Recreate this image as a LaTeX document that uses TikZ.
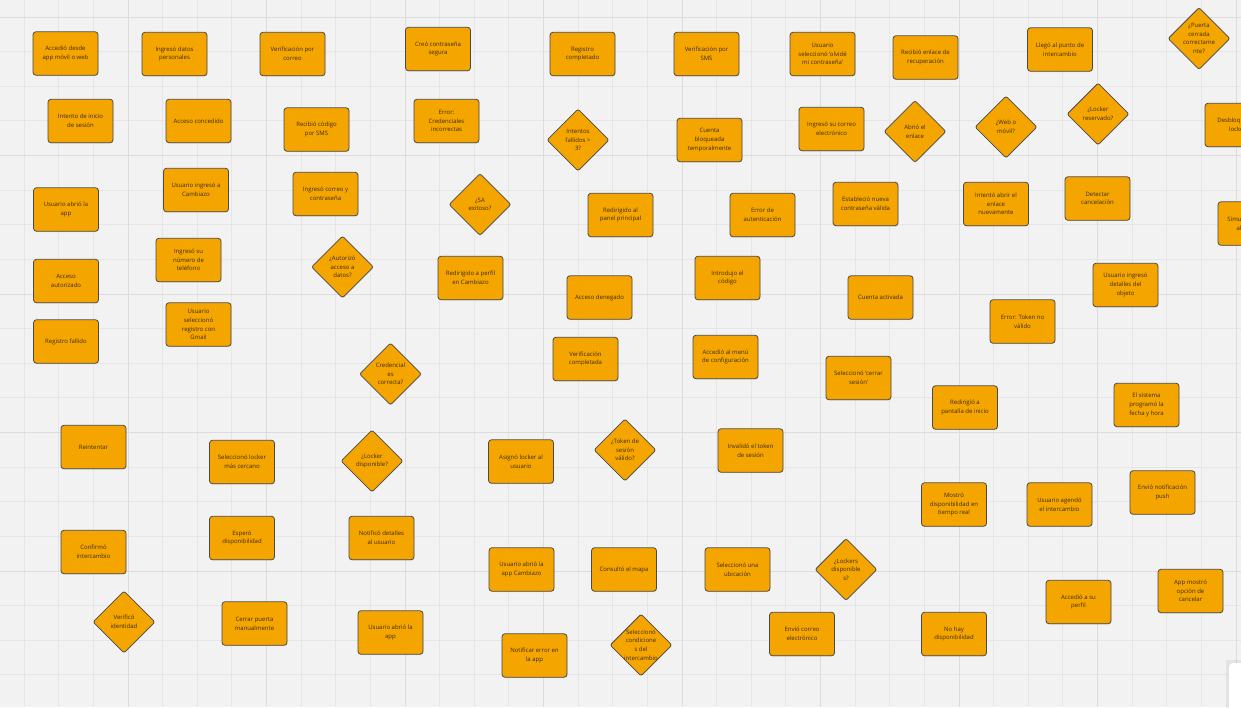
\documentclass[tikz,border=0pt]{standalone}
\usepackage{fontspec}
\setmainfont{Open Sans}
\usetikzlibrary{shapes.geometric,shadows}

\definecolor{board}{HTML}{F2F2F2}
\definecolor{gridminor}{HTML}{E6E6E6}
\definecolor{gridmajor}{HTML}{DCDCDC}
\definecolor{sticky}{HTML}{F5A500}
\definecolor{rim}{HTML}{4A4A4A}
\definecolor{ink}{HTML}{3A2B05}

\tikzset{
  notefont/.style={font=\fontsize{6}{8.7}\selectfont, text=ink},
  card/.style={draw=rim, line width=0.8pt, fill=sticky, rounded corners=3pt,
    minimum width=65pt, minimum height=43.5pt, inner sep=1pt, align=center, notefont,
    drop shadow={opacity=0.18, shadow xshift=0.4pt, shadow yshift=-0.8pt}},
  decision/.style={shape=diamond, draw=rim, line width=0.8pt, fill=sticky, rounded corners=2pt,
    minimum width=62pt, minimum height=62pt, inner sep=0pt,
    drop shadow={opacity=0.18, shadow xshift=0.4pt, shadow yshift=-0.8pt}},
  dlabel/.style={align=center, inner sep=0pt, notefont},
}

\begin{document}
\begin{tikzpicture}[x=1pt, y=-1pt]
  \useasboundingbox (0,0) rectangle (1241,707);
  \clip (0,0) rectangle (1241,707);

  % board and grid
  \fill[board] (0,0) rectangle (1241,707);
  \foreach \k in {-3,...,32} \draw[gridminor, line width=0.8pt] ({128+34.625*\k},0) -- ++(0,707);
  \foreach \k in {0,...,20} \draw[gridminor, line width=0.8pt] (0,{17+34.625*\k}) -- ++(1241,0);
  \foreach \k in {-1,...,8} \draw[gridmajor, line width=1pt] ({128+138.5*\k},0) -- ++(0,707);
  \foreach \k in {0,...,5} \draw[gridmajor, line width=1pt] (0,{17+138.5*\k}) -- ++(1241,0);

  % first row
  \node[card] (n1) at (65.5,53.5) {Accedió desde\\app móvil o web};
  \node[card] (n2) at (174.5,54) {Ingresó datos\\personales};
  \node[card] (n3) at (292.5,54) {Verificación por\\correo};
  \node[card] (n4) at (438,49) {Creó contraseña\\segura};
  \node[card] (n5) at (582.5,54) {Registro\\completado};
  \node[card] (n6) at (706.5,54) {Verificación por\\SMS};
  \node[card] (n7) at (822.5,54) {Usuario\\seleccionó `olvidé\\mi contraseña'};
  \node[card] (n8) at (925.5,57.5) {Recibió enlace de\\recuperación};
  \node[card] (n9) at (1060,49.5) {Llegó al punto de\\intercambio};
  \node[decision] (d10) at (1199,38.5) {};
  \node[dlabel] (d10t) at (d10) {¿Puerta\\cerrada\\correctame\\nte?};

  % second row
  \node[card] (n11) at (80.5,121) {Intento de inicio\\de sesión};
  \node[card] (n12) at (198.5,121) {Acceso concedido};
  \node[card] (n13) at (316.5,129.5) {Recibió código\\por SMS};
  \node[card] (n14) at (446.5,121) {Error:\\Credenciales\\incorrectas};
  \node[decision] (d15) at (578,140) {};
  \node[dlabel] (d15t) at (d15) {Intentos\\fallidos >\\3?};
  \node[card] (n16) at (709.5,140) {Cuenta\\bloqueada\\temporalmente};
  \node[card] (n17) at (831.5,129) {Ingresó su correo\\electrónico};
  \node[decision] (d18) at (915,131.5) {};
  \node[dlabel] (d18t) at (d18) {Abrió el\\enlace};
  \node[decision] (d19) at (1006,127) {};
  \node[dlabel] (d19t) at (d19) {¿Web o\\móvil?};
  \node[decision] (d20) at (1098,114) {};
  \node[dlabel] (d20t) at (d20) {¿Locker\\reservado?};
  \node[card] (n21) at (1237.5,125) {Desbloqueó el\\locker};

  % third row
  \node[card] (n22) at (66,209.5) {Usuario abrió la\\app};
  \node[card] (n23) at (196,190) {Usuario ingresó a\\Cambiazo};
  \node[card] (n24) at (325.5,194) {Ingresó correo y\\contraseña};
  \node[decision] (d25) at (480,204.5) {};
  \node[dlabel] (d25t) at (d25) {¿SA\\exitoso?};
  \node[card] (n26) at (620.5,215) {Redirigido al\\panel principal};
  \node[card] (n27) at (762.5,215) {Error de\\autenticación};
  \node[card] (n28) at (865.5,204) {Estableció nueva\\contraseña válida};
  \node[card] (n29) at (996,204) {Intentó abrir el\\enlace\\nuevamente};
  \node[card] (n30) at (1097.5,198.5) {Detectar\\cancelación};
  \node[card] (n31) at (1250.5,223.5) {Simuló el acceso\\al usuario};

  % fourth row
  \node[card] (n32) at (66,281) {Acceso\\autorizado};
  \node[card] (n33) at (188.5,260) {Ingresó su\\número de\\teléfono};
  \node[decision] (d34) at (342.5,267) {};
  \node[dlabel] (d34t) at (d34) {¿Autorizó\\acceso a\\datos?};
  \node[card] (n35) at (470.5,278) {Redirigido a perfil\\en Cambiazo};
  \node[card] (n36) at (599.5,297.5) {Acceso denegado};
  \node[card] (n37) at (727.5,278) {Introdujo el\\código};
  \node[card] (n38) at (880.5,297.5) {Cuenta activada};
  \node[card] (n39) at (1125.5,285) {Usuario ingresó\\detalles del\\objeto};
  \node[card] (n40) at (1022.5,321.5) {Error: Token no\\válido};

  % fifth row
  \node[card] (n41) at (66,341.5) {Registro fallido};
  \node[card] (n42) at (198.5,324.5) {Usuario\\seleccionó\\registro con\\Gmail};
  \node[decision] (d43) at (390.5,374) {};
  \node[dlabel] (d43t) at (d43) {Credencial\\es\\correcta?};
  \node[card] (n44) at (585.5,359) {Verificación\\completada};
  \node[card] (n45) at (725.5,357) {Accedió al menú\\de configuración};
  \node[card] (n46) at (858.5,378) {Seleccionó `cerrar\\sesión'};
  \node[card] (n47) at (965,407.5) {Redirigió a\\pantalla de inicio};
  \node[card] (n48) at (1146.5,405) {El sistema\\programó la\\fecha y hora};

  % sixth row
  \node[card] (n49) at (93.5,447) {Reintentar};
  \node[card] (n50) at (242,462) {Seleccionó locker\\más cercano};
  \node[decision] (d51) at (372,461) {};
  \node[dlabel] (d51t) at (d51) {¿Locker\\disponible?};
  \node[card] (n52) at (521,461.5) {Asignó locker al\\usuario};
  \node[decision] (d53) at (625,450) {};
  \node[dlabel] (d53t) at (d53) {¿Token de\\sesión\\válido?};
  \node[card] (n54) at (750.5,450.5) {Invalidó el token\\de sesión};
  \node[card] (n55) at (954,504.5) {Mostró\\disponibilidad en\\tiempo real};
  \node[card] (n56) at (1059.5,504.5) {Usuario agendó\\el intercambio};
  \node[card] (n57) at (1162.5,492.5) {Envió notificación\\push};

  % seventh row
  \node[card] (n58) at (93.5,552) {Confirmó\\intercambio};
  \node[card] (n59) at (242,538) {Esperó\\disponibilidad};
  \node[card] (n60) at (381.5,538) {Notificó detalles\\al usuario};
  \node[card] (n61) at (521.5,569.5) {Usuario abrió la\\app Cambiazo};
  \node[card] (n62) at (624,569.5) {Consultó el mapa};
  \node[card] (n63) at (737.5,569.5) {Seleccionó una\\ubicación};
  \node[decision] (d64) at (846,569.5) {};
  \node[dlabel] (d64t) at (d64) {¿Lockers\\disponible\\s?};
  \node[card] (n65) at (1078.5,602) {Accedió a su\\perfil};
  \node[card] (n66) at (1190.5,591) {App mostró\\opción de\\cancelar};

  % last row
  \node[decision] (d67) at (124,622) {};
  \node[dlabel] (d67t) at (d67) {Verificó\\identidad};
  \node[card] (n68) at (254.5,623.5) {Cerrar puerta\\manualmente};
  \node[card] (n69) at (390.5,632.5) {Usuario abrió la\\app};
  \node[card] (n70) at (534.5,655.5) {Notificar error en\\la app};
  \node[decision] (d71) at (641,645) {};
  \node[dlabel] (d71t) at (d71) {Seleccionó\\condicione\\s del\\intercambio};
  \node[card] (n72) at (802,634) {Envió correo\\electrónico};
  \node[card] (n73) at (954,634) {No hay\\disponibilidad};

  % white panel in the lower right corner
  \fill[black, opacity=0.06] (1226,660) rectangle (1250,720);
  \fill[white, rounded corners=4pt] (1229,663) rectangle (1260,720);
\end{tikzpicture}
\end{document}
